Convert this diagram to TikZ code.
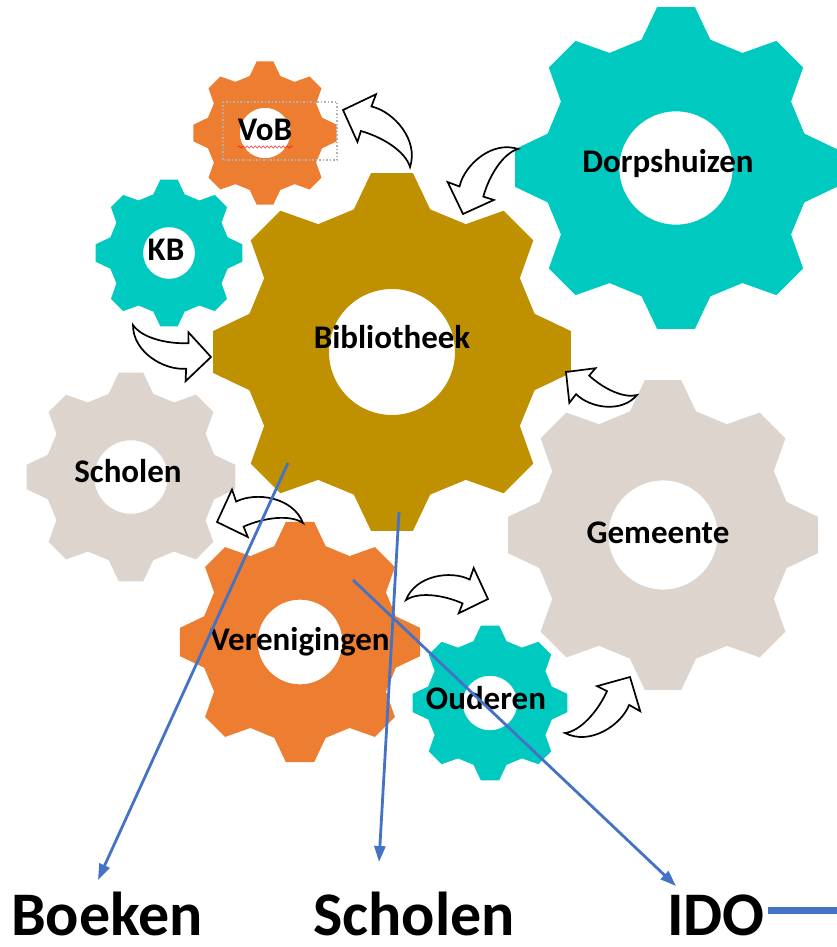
\documentclass[tikz,border=0pt]{standalone}
\usepackage{fontspec}
\setmainfont{Carlito}
\usetikzlibrary{arrows.meta,decorations.pathmorphing}

\definecolor{GearGold}{RGB}{191,144,0}
\definecolor{GearTeal}{RGB}{0,201,192}
\definecolor{GearSand}{RGB}{222,212,206}
\definecolor{GearOrange}{RGB}{237,125,49}
\definecolor{LinkBlue}{RGB}{68,114,196}

% gear: centre x, centre y, outer radius, colour
\newcommand{\gear}[4]{%
  \begin{scope}[shift={(#1,#2)}]
    \fill[#4, even odd rule] (-15:{0.82*#3})
      \foreach \a in {0,45,...,315}{
        -- (\a-15:{0.82*#3}) -- (\a-6.7:#3) -- (\a+6.7:#3) -- (\a+15:{0.82*#3})}
      -- cycle (0,0) circle[radius={0.35*#3}];
  \end{scope}}

% bent block arrow: tail x, tail y, tip x, tip y, 1 = turns left / -1 = turns right
\newcommand{\bentarrow}[5]{%
  \pgfmathsetmacro{\arrUx}{#3-#1}%
  \pgfmathsetmacro{\arrUy}{#2-#4}%
  \pgfmathsetmacro{\arrVx}{-(#5)*\arrUy}%
  \pgfmathsetmacro{\arrVy}{(#5)*\arrUx}%
  \begin{scope}[shift={(#1,#2)}, x={(\arrUx pt,\arrUy pt)}, y={(\arrVx pt,\arrVy pt)}]
    \draw[ArrowStyle] (0,0) .. controls (0.15,-0.1) and (0.45,-0.06) .. (0.69,0.05)
      -- (0.64,0.17) -- (1,0) -- (0.83,-0.38) -- (0.78,-0.24)
      .. controls (0.55,-0.36) and (0.12,-0.3) .. (0,0) -- cycle;
  \end{scope}}

\begin{document}
\begin{tikzpicture}[x=1pt,y=-1pt]
  \tikzset{GearLabelStyle/.style = {
    font          = \fontsize{33}{36}\selectfont\bfseries,
    text          = black,
    anchor        = base,
    inner sep     = 0pt
    }
  }
  \tikzset{BottomLabelStyle/.style = {
    font          = \fontsize{62}{66}\selectfont\bfseries,
    text          = black,
    anchor        = base,
    inner sep     = 3pt
    }
  }
  \tikzset{ArrowStyle/.style = {
    draw          = black,
    fill          = white,
    line width    = 1.7pt,
    line join     = miter
    }
  }
  \tikzset{LinkStyle/.style = {
    draw          = LinkBlue,
    line width    = 2.8pt,
    -{Triangle[length=16pt,width=11pt]}
    }
  }
  \useasboundingbox (0,0) rectangle (836,947);

  \gear{131}{477}{105}{GearSand}
  \gear{663}{535}{156}{GearSand}
  \gear{676}{168}{162}{GearTeal}
  \gear{392}{352}{180}{GearGold}
  \gear{300}{642}{121}{GearOrange}
  \gear{490}{703}{78}{GearTeal}
  \gear{169}{253}{74}{GearTeal}
  \gear{265}{133}{72}{GearOrange}

  \bentarrow{410}{167}{343}{110}{1}
  \bentarrow{518}{149}{463}{214}{1}
  \bentarrow{133}{325}{211}{357}{1}
  \bentarrow{637}{395}{566}{372}{-1}
  \bentarrow{303}{523}{217}{522}{1}
  \bentarrow{406}{600}{488}{599}{-1}
  \bentarrow{565}{733}{630}{677}{1}

  \node[GearLabelStyle](Bib) at (392, 348) {Bibliotheek};
  \node[GearLabelStyle](Dorp) at (668, 172) {Dorpshuizen};
  \node[GearLabelStyle](Gem) at (658, 543) {Gemeente};
  \node[GearLabelStyle](Schol) at (128, 482) {Scholen};
  \node[GearLabelStyle](Ver) at (300, 650) {Verenigingen};
  \node[GearLabelStyle](Oud) at (486, 709) {Ouderen};
  \node[GearLabelStyle](KB) at (166, 260) {KB};
  \node[GearLabelStyle](VoB) at (265, 140) {VoB};
  \draw[gray!60, dotted, line width=1.5pt] (223,102) rectangle (337,160);
  \draw[red, decorate, decoration={snake, amplitude=1.2pt, segment length=4pt}]
    (238,147) -- (293,147);

  \node[BottomLabelStyle](Boeken) at (107, 935) {Boeken};
  \node[BottomLabelStyle](Scholen) at (414, 935) {Scholen};
  \node[BottomLabelStyle](IDO) at (716, 935) {IDO};

  \coordinate (BoekenFrom) at (288, 463);
  \coordinate (BoekenTo) at (98, 880);
  \coordinate (ScholenFrom) at (399, 512);
  \coordinate (ScholenTo) at (379, 862);
  \coordinate (IDOFrom) at (353, 580);
  \coordinate (IDOTo) at (676, 886);
  \coordinate (BarEnd) at (840, 910);
  \draw[LinkStyle](BoekenFrom) -- (BoekenTo);
  \draw[LinkStyle](ScholenFrom) -- (ScholenTo);
  \draw[LinkStyle](IDOFrom) -- (IDOTo);
  \draw[LinkBlue, line width=7pt](IDO.east |- BarEnd) -- (BarEnd);
\end{tikzpicture}
\end{document}
